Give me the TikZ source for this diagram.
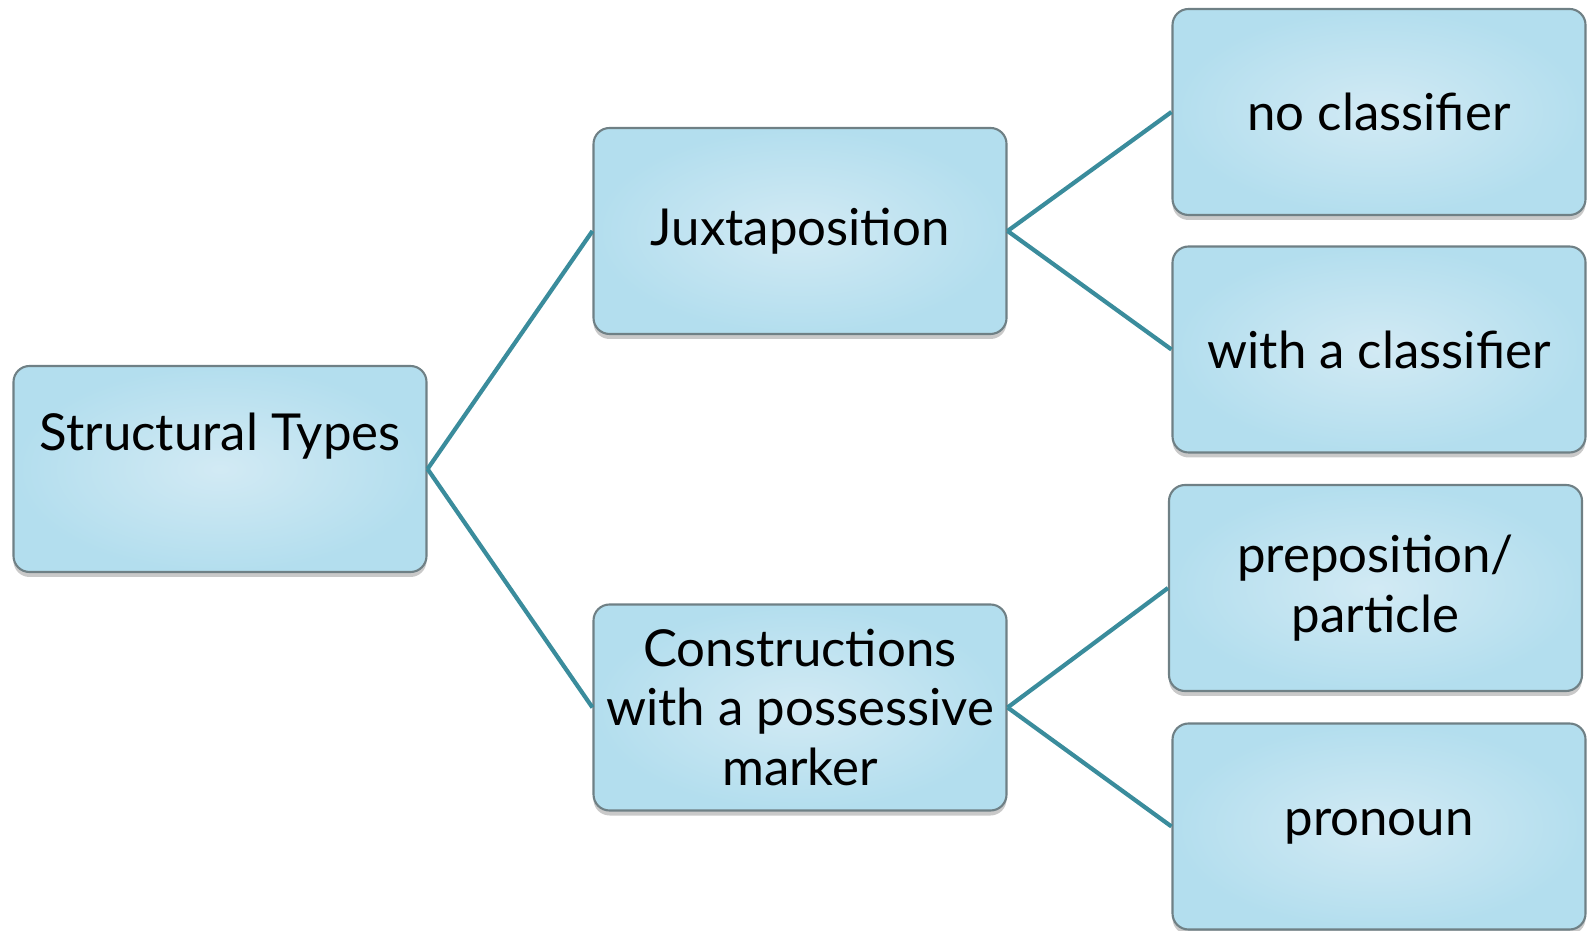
\documentclass[tikz,border=0pt]{standalone}
\usepackage{fontspec}
\setmainfont{Lato}
\usetikzlibrary{shadows}
\definecolor{boxedge}{HTML}{B3DEEE}
\definecolor{boxmid}{HTML}{D2EAF4}
\definecolor{boxline}{HTML}{6F8085}
\definecolor{linkcol}{HTML}{3A8C9C}
\tikzset{
    typebox/.style={draw=boxline, line width=0.6pt, rounded corners=0.16cm,
        inner color=boxmid, outer color=boxedge,
        minimum width=4.13cm, minimum height=2.06cm, align=center,
        font=\fontsize{14.5}{17}\selectfont,
        drop shadow={shadow xshift=0pt, shadow yshift=-0.05cm, opacity=0.3, fill=black!70}},
    link/.style={draw=linkcol, line width=1.2pt}
}
\begin{document}
\begin{tikzpicture}
        \useasboundingbox (0, 0) rectangle (15.89, 9.30);

        \node[typebox] (st) at (2.20, 4.61) {Structural Types\\[4pt] ~};

        \node[typebox] (jux) at (8.00, 6.99) {Juxtaposition};
        \node[typebox] (con) at (8.00, 2.225) {Constructions\\with a possessive\\marker};

        \node[typebox] (nocl) at (13.79, 8.18) {no classifier};
        \node[typebox] (wcl) at (13.79, 5.805) {with a classifier};
        \node[typebox] (prep) at (13.755, 3.42) {preposition/\\particle};
        \node[typebox] (pron) at (13.79, 1.035) {pronoun};

        \draw[link] (st.east) -- (jux.west);
        \draw[link] (st.east) -- (con.west);

        \draw[link] (jux.east) -- (nocl.west);
        \draw[link] (jux.east) -- (wcl.west);
        \draw[link] (con.east) -- (prep.west);
        \draw[link] (con.east) -- (pron.west);

    \end{tikzpicture}
\end{document}
